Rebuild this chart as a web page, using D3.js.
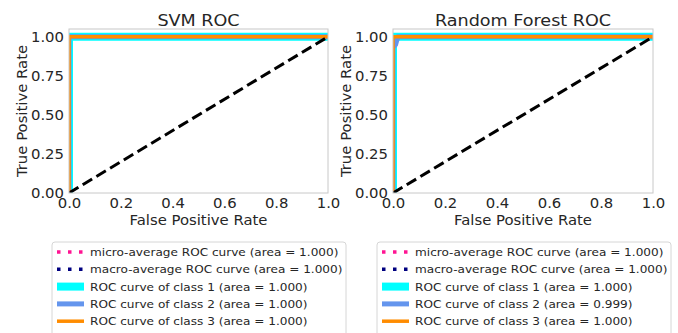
<!DOCTYPE html>
<head>
  <meta charset="utf-8" />
  <script src="https://d3js.org/d3.v7.min.js"></script>
  <style>
    body { margin: 0; background: #fff; }
    text { font-family: "DejaVu Sans", sans-serif; fill: #262626; }
    .domain { stroke: none; }
  </style>
</head>
<body>
  <script>
    // curves (fpr / tpr pairs)
    var svmMicroFpr = [0, 0, 1],          svmMicroTpr = [0, 1, 1];
    var svmMacroFpr = [0, 0, 1],          svmMacroTpr = [0, 1, 1];
    var svmC1Fpr = [0, 0, 1],             svmC1Tpr = [0, 1, 1];
    var svmC2Fpr = [0, 0, 1],             svmC2Tpr = [0, 1, 1];
    var svmC3Fpr = [0, 0, 1],             svmC3Tpr = [0, 1, 1];

    var rfMicroFpr = [0, 0, 0.005, 1],    rfMicroTpr = [0, 0.99, 1, 1];
    var rfMacroFpr = [0, 0, 0.005, 1],    rfMacroTpr = [0, 0.99, 1, 1];
    var rfC1Fpr = [0, 0, 1],              rfC1Tpr = [0, 1, 1];
    var rfC2Fpr = [0, 0, 0.01, 0.015, 0.02, 1], rfC2Tpr = [0, 0.93, 0.95, 0.98, 1, 1];
    var rfC3Fpr = [0, 0, 1],              rfC3Tpr = [0, 1, 1];

    var seriesNames = ["micro-average ROC curve", "macro-average ROC curve",
      "ROC curve of class 1", "ROC curve of class 2", "ROC curve of class 3"];
    var svmAuc = [1.000, 1.000, 1.000, 1.000, 1.000];
    var rfAuc = [1.000, 1.000, 1.000, 0.999, 1.000];
    var xTicks = [0, 0.2, 0.4, 0.6, 0.8, 1.0];
    var yTicks = [0, 0.25, 0.5, 0.75, 1.0];

    var styles = [
      { color: "deeppink", w: 3.5, dash: "3.5,7.5", cap: "butt" },
      { color: "navy", w: 3.5, dash: "3.5,7.5", cap: "butt" },
      { color: "aqua", w: 8, dash: null, cap: "square" },
      { color: "cornflowerblue", w: 5, dash: null, cap: "square" },
      { color: "darkorange", w: 3.5, dash: null, cap: "square" }
    ];

    var panels = [
      { title: "SVM ROC", left: 69, right: 328, auc: svmAuc,
        fpr: [svmMicroFpr, svmMacroFpr, svmC1Fpr, svmC2Fpr, svmC3Fpr],
        tpr: [svmMicroTpr, svmMacroTpr, svmC1Tpr, svmC2Tpr, svmC3Tpr],
        legX: 52, ylabX: 27 },
      { title: "Random Forest ROC", left: 393, right: 653, auc: rfAuc,
        fpr: [rfMicroFpr, rfMacroFpr, rfC1Fpr, rfC2Fpr, rfC3Fpr],
        tpr: [rfMicroTpr, rfMacroTpr, rfC1Tpr, rfC2Tpr, rfC3Tpr],
        legX: 377, ylabX: 351 }
    ];

    var width = 678, height = 333;
    var plotTop = 29, plotBottom = 193;
    var sx = 1.1; // the picture is stretched sideways

    var svg = d3.select("body").append("svg")
      .attr("width", width).attr("height", height);

    panels.forEach(function (p, pi) {
      var x = d3.scaleLinear().domain([0, 1]).range([p.left, p.right]);
      var y = d3.scaleLinear().domain([0, 1.05]).range([plotBottom, plotTop]);
      var g = svg.append("g");

      g.append("clipPath").attr("id", "clip" + pi)
        .append("rect")
        .attr("x", x(0)).attr("y", y(1.05))
        .attr("width", x(1) - x(0)).attr("height", y(0) - y(1.05));

      var line = d3.line().x(function (d) { return x(d[0]); })
        .y(function (d) { return y(d[1]); });

      var plot = g.append("g").attr("clip-path", "url(#clip" + pi + ")");
      p.fpr.forEach(function (f, i) {
        var pts = f.map(function (v, j) { return [v, p.tpr[i][j]]; });
        plot.append("path")
          .attr("d", line(pts))
          .attr("fill", "none")
          .attr("stroke", styles[i].color)
          .attr("stroke-width", styles[i].w)
          .attr("stroke-dasharray", styles[i].dash);
      });
      // chance line
      plot.append("path")
        .attr("d", line([[0, 0], [1, 1]]))
        .attr("fill", "none")
        .attr("stroke", "#000")
        .attr("stroke-width", 3)
        .attr("stroke-dasharray", "11,5");

      // frame
      g.append("rect")
        .attr("x", x(0)).attr("y", y(1.05))
        .attr("width", x(1) - x(0)).attr("height", y(0) - y(1.05))
        .attr("fill", "none").attr("stroke", "#c8c8c8").attr("stroke-width", 1);

      var xa = g.append("g").attr("transform", "translate(0," + plotBottom + ")")
        .call(d3.axisBottom(x).tickValues(xTicks).tickSize(0).tickPadding(0)
          .tickFormat(d3.format(".1f")));
      xa.selectAll("text")
        .attr("y", 0).attr("dy", 0)
        .attr("transform", "translate(0,15) scale(" + sx + ",1)")
        .style("font-size", "13.5px");

      var ya = g.append("g").attr("transform", "translate(" + (x(0) - 5) + ",0)")
        .call(d3.axisLeft(y).tickValues(yTicks).tickSize(0).tickPadding(0)
          .tickFormat(d3.format(".2f")));
      ya.selectAll("text")
        .attr("x", 0).attr("dy", "0.36em")
        .attr("transform", "scale(" + sx + ",1)")
        .style("font-size", "13.5px");
      g.selectAll(".tick line").remove();

      g.append("text")
        .attr("transform", "translate(" + ((x(0) + x(1)) / 2) + ",26) scale(" + sx + ",1)")
        .attr("text-anchor", "middle").style("font-size", "16px").text(p.title);
      g.append("text")
        .attr("transform", "translate(" + ((x(0) + x(1)) / 2) + ",225) scale(" + sx + ",1)")
        .attr("text-anchor", "middle").style("font-size", "13.5px").text("False Positive Rate");
      g.append("text")
        .attr("transform", "translate(" + p.ylabX + "," + ((plotTop + plotBottom) / 2) + ") rotate(-90) scale(1.1,1)")
        .attr("text-anchor", "middle").style("font-size", "13.5px").text("True Positive Rate");

      // legend
      var lg = g.append("g").attr("transform", "translate(" + p.legX + ",242)");
      lg.append("rect").attr("x", 0).attr("y", 0).attr("width", 294).attr("height", 110)
        .attr("rx", 3).attr("fill", "#fff").attr("stroke", "#d6d6d6");
      seriesNames.forEach(function (name, i) {
        var cy = 10 + i * 17.3;
        var s = styles[i];
        var inset = s.cap === "square" ? s.w / 2 : 0;
        lg.append("line")
          .attr("x1", 5 + inset).attr("x2", 32 - inset)
          .attr("y1", cy).attr("y2", cy)
          .attr("stroke", s.color).attr("stroke-width", s.w)
          .attr("stroke-linecap", s.cap)
          .attr("stroke-dasharray", s.dash);
        lg.append("text")
          .attr("transform", "translate(38," + cy + ") scale(" + sx + ",1)")
          .attr("dy", "0.36em").style("font-size", "11px")
          .text(name + " (area = " + p.auc[i].toFixed(3) + ")");
      });
    });
  </script>
</body>
